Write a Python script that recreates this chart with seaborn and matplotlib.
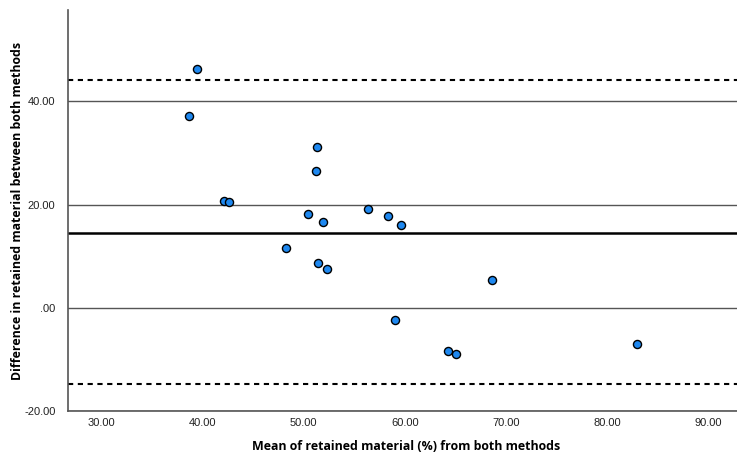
import pandas as pd
import matplotlib.pyplot as plt
import seaborn as sns

# media dos dois metodos (x) e diferenca entre eles (y)
media = [39.4, 38.7, 42.1, 42.6, 51.35, 51.25, 50.4, 51.9, 56.3, 58.3,
         59.6, 48.2, 51.4, 52.3, 68.6, 59.05, 64.2, 65.0, 82.9]
diferenca = [46.2, 37.1, 20.6, 20.4, 31.1, 26.5, 18.1, 16.6, 19.1, 17.7,
             16.1, 11.65, 8.7, 7.45, 5.4, -2.3, -8.35, -9.0, -7.05]

media_dif = 14.5
limite_sup = 44.1
limite_inf = -14.8

x_ticks = [30, 40, 50, 60, 70, 80, 90]
y_ticks = [-20, 0, 20, 40]

df = pd.DataFrame({'media': media, 'diferenca': diferenca})

sns.set_style('white')
plt.rcParams['font.family'] = ['Liberation Sans', 'DejaVu Sans']

fig = plt.figure(figsize=(7.37, 4.58), dpi=100)
ax = fig.add_axes([0.0923, 0.1026, 0.9077, 0.8756])

for y in y_ticks:
    ax.axhline(y, color='#555555', lw=1.0, zorder=1)
ax.axhline(media_dif, color='black', lw=1.8, zorder=2)
ax.axhline(limite_sup, color='black', lw=1.5, ls=(0, (2.5, 2.2)), zorder=2)
ax.axhline(limite_inf, color='black', lw=1.5, ls=(0, (2.5, 2.2)), zorder=2)

sns.scatterplot(data=df, x='media', y='diferenca', ax=ax, s=34,
                color='#1E88F0', edgecolor='black', linewidth=1.0, zorder=3)

ax.set_xlim(26.7, 92.8)
ax.set_ylim(-20, 57.7)
ax.set_xticks(x_ticks)
ax.set_yticks(y_ticks)
ax.set_xticklabels(['%.2f' % v for v in x_ticks], fontsize=8, color='#222222')
ax.set_yticklabels(['.00' if v == 0 else '%.2f' % v for v in y_ticks],
                   fontsize=8, color='#222222')
ax.tick_params(axis='x', length=0, pad=5)
ax.tick_params(axis='y', length=0, pad=9)

xl = ax.set_xlabel('Mean of retained material (%) from both methods',
                   fontsize=8.9, fontweight='bold', family='Open Sans', color='black')
yl = ax.set_ylabel('Difference in retained material between both methods',
                   fontsize=8.9, fontweight='bold', family='Open Sans', color='black')
xl.set_verticalalignment('center')
yl.set_verticalalignment('center')
ax.xaxis.set_label_coords(0.505, -0.089)
ax.yaxis.set_label_coords(-0.076, 0.499)

for lado in ['top', 'right']:
    ax.spines[lado].set_visible(False)
for lado in ['left', 'bottom']:
    ax.spines[lado].set_color('#555555')
    ax.spines[lado].set_linewidth(1.2)

fig.savefig('out.png', dpi=100)
